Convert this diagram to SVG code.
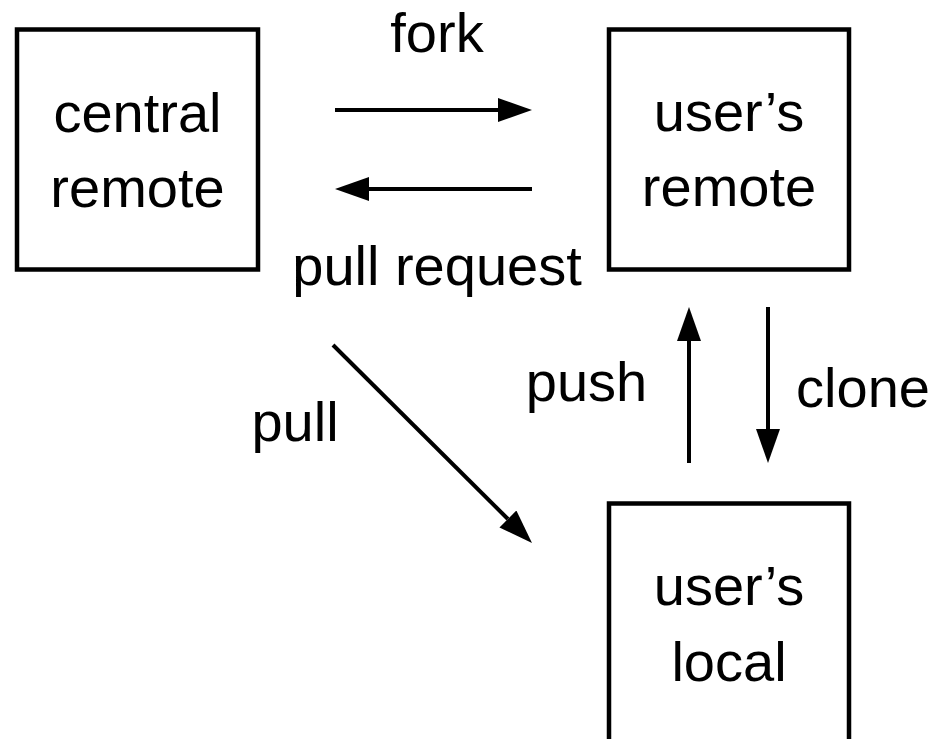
<svg xmlns="http://www.w3.org/2000/svg" width="931" height="739" viewBox="0 0 931 739">
  <style>
    .box { fill: none; stroke: #000; stroke-width: 4.5; }
    .lbl { font-family: "Liberation Sans", Arial, sans-serif; font-size: 56px; fill: #000; text-anchor: middle; }
    .edge { fill: none; stroke: #000; stroke-width: 4; }
  </style>
  <defs>
    <marker id="head" markerUnits="userSpaceOnUse" viewBox="0 0 34 24" refX="0" refY="12" markerWidth="34" markerHeight="24" orient="auto">
      <path d="M0,0 L34,12 L0,24 z" fill="#000"/>
    </marker>
  </defs>
  <rect width="931" height="739" fill="#fff"/>

  <g id="central-remote">
    <rect class="box" x="17" y="29.5" width="241" height="240"/>
    <text class="lbl" x="137.5" y="132">central</text>
    <text class="lbl" x="137.5" y="207">remote</text>
  </g>

  <g id="users-remote">
    <rect class="box" x="609" y="29.5" width="240" height="240"/>
    <text class="lbl" x="729" y="131">user’s</text>
    <text class="lbl" x="729" y="206">remote</text>
  </g>

  <g id="users-local">
    <rect class="box" x="609" y="503.5" width="240" height="260"/>
    <text class="lbl" x="729" y="605">user’s</text>
    <text class="lbl" x="729" y="681">local</text>
  </g>

  <g id="connectors">
    <path class="edge" d="M335,110 H498" marker-end="url(#head)"/>
    <path class="edge" d="M532,189 H369" marker-end="url(#head)"/>
    <path class="edge" d="M689,463 V341" marker-end="url(#head)"/>
    <path class="edge" d="M768,307 V429" marker-end="url(#head)"/>
    <path class="edge" d="M333,345 L507.9,519" marker-end="url(#head)"/>
    <text class="lbl" x="437" y="52">fork</text>
    <text class="lbl" x="437" y="285">pull request</text>
    <text class="lbl" x="586.5" y="401">push</text>
    <text class="lbl" x="863" y="407">clone</text>
    <text class="lbl" x="295" y="441">pull</text>
  </g>
</svg>
